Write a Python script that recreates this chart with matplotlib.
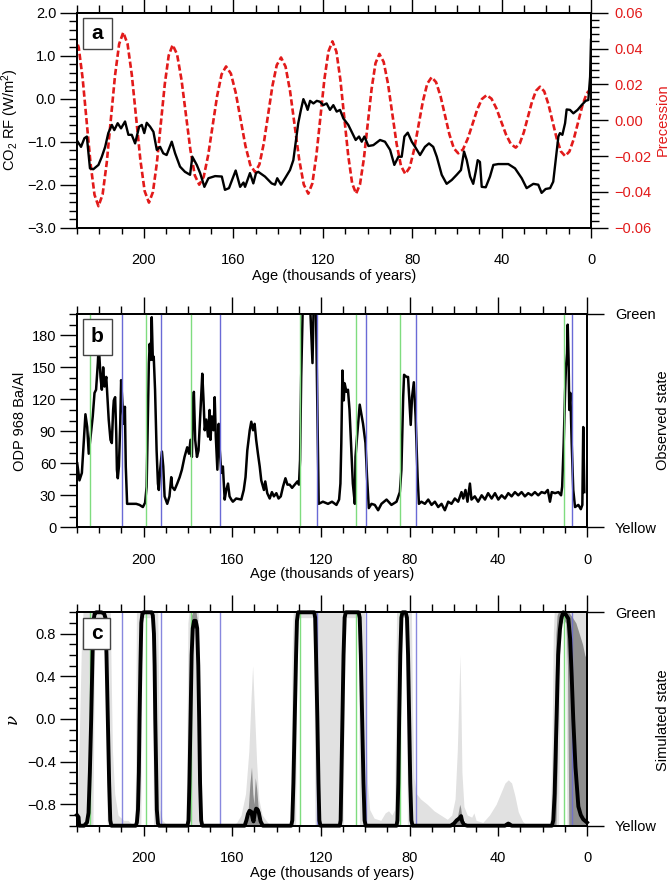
import matplotlib
matplotlib.use("Agg")
import matplotlib.pyplot as plt
from matplotlib.ticker import MultipleLocator, FuncFormatter
from matplotlib.patches import Rectangle

plt.rcParams['font.family'] = ['Liberation Sans', 'DejaVu Sans']
plt.rcParams['mathtext.fontset'] = 'custom'
plt.rcParams['mathtext.rm'] = 'Liberation Sans'
plt.rcParams['mathtext.it'] = 'Liberation Sans:italic'
plt.rcParams['axes.unicode_minus'] = True

# ---------------- data ----------------
co2_age = [229.7, 228.2, 226.7, 225.6, 224.2, 222.7, 220.4, 218.9, 217.4, 216.0, 214.4, 213.3, 211.8,
           210.3, 208.5, 207.0, 205.5, 204.0, 202.2, 201.0, 199.9, 198.8, 197.3, 195.8, 194.3, 192.8,
           191.4, 189.9, 187.6, 186.1, 183.9, 181.7, 179.4, 178.4, 176.4, 174.9, 173.0, 171.2, 168.2,
           165.2, 163.8, 162.0, 159.0, 157.0, 155.5, 154.8, 152.6, 151.1, 149.9, 148.9, 145.9, 142.9,
           141.4, 140.4, 138.7, 136.9, 134.7, 133.2, 132.4, 131.0, 129.8, 128.7, 127.5, 126.8, 125.7,
           124.2, 122.7, 121.3, 119.8, 118.3, 116.8, 115.3, 113.8, 112.3, 110.8, 108.6, 107.1, 105.3,
           103.8, 102.6, 101.4, 99.6, 97.4, 94.4, 92.2, 89.9, 88.0, 86.2, 84.7, 83.5, 82.0, 80.2,
           78.7, 76.5, 74.3, 72.5, 70.6, 69.0, 66.8, 64.6, 62.3, 60.1, 58.2, 56.8, 55.6, 54.1, 52.7,
           51.6, 50.7, 49.7, 48.9, 47.1, 45.2, 43.7, 41.5, 37.0, 34.0, 31.0, 28.8, 25.8, 23.6, 22.1,
           20.3, 18.3, 16.9, 15.8, 14.6, 13.9, 12.8, 11.6, 10.9, 9.4, 7.9, 6.0, 4.2, 2.4, 1.2, 0.4, 0.0]
co2_rf = [-1.00, -1.12, -0.92, -0.88, -1.62, -1.64, -1.54, -1.35, -1.12, -0.80, -0.61, -0.73, -0.57,
          -0.69, -0.53, -0.84, -0.84, -1.04, -0.65, -0.61, -0.80, -0.56, -0.65, -0.77, -1.19, -1.12,
          -1.27, -1.31, -1.00, -1.27, -1.58, -1.70, -1.77, -1.35, -1.54, -1.73, -2.05, -1.85, -1.80,
          -1.81, -2.12, -2.08, -1.67, -2.05, -1.95, -2.05, -1.73, -1.97, -1.73, -1.70, -1.81, -1.97,
          -2.00, -1.85, -2.00, -1.85, -1.66, -1.43, -1.12, -0.57, -0.26, -0.01, -0.15, -0.26, -0.05,
          -0.11, -0.05, -0.07, -0.15, -0.11, -0.26, -0.15, -0.30, -0.26, -0.46, -0.61, -0.77, -0.96,
          -0.88, -1.00, -0.88, -1.10, -1.08, -0.96, -1.00, -1.19, -1.54, -1.35, -1.35, -0.88, -0.79, -1.00,
          -1.12, -1.31, -1.12, -1.04, -1.12, -1.35, -1.77, -1.98, -1.89, -1.77, -1.66, -1.23, -1.43, -1.81, -1.98,
          -1.70, -1.43, -1.47, -2.05, -2.06, -1.81, -1.54, -1.52, -1.52, -1.62, -1.85, -2.08, -1.98, -2.00, -2.19,
          -2.10, -2.08, -1.93, -1.43, -0.88, -0.80, -0.84, -0.57, -0.25, -0.26, -0.34, -0.26, -0.15, -0.05, -0.03, 0.51, 1.37]

prec_age = [231.0, 229.23, 227.47, 225.7, 223.93, 222.17, 220.4, 218.55, 216.7, 214.85, 213.0, 211.15,
            209.3, 207.38, 205.47, 203.55, 201.63, 199.72, 197.8, 196.03, 194.27, 192.5, 190.73, 188.97,
            187.2, 185.22, 183.23, 181.25, 179.27, 177.28, 175.3, 173.3, 171.3, 169.3, 167.3, 165.3,
            163.3, 161.13, 158.97, 156.8, 154.63, 152.47, 150.3, 148.37, 146.43, 144.5, 142.57, 140.63,
            138.7, 136.67, 134.63, 132.6, 130.57, 128.53, 126.5, 124.7, 122.9, 121.1, 119.3, 117.5,
            115.7, 113.93, 112.17, 110.4, 108.63, 106.87, 105.1, 103.37, 101.63, 99.9, 98.17, 96.43,
            94.7, 92.77, 90.83, 88.9, 86.97, 85.03, 83.1, 81.13, 79.17, 77.2, 75.23, 73.27,
            71.3, 69.32, 67.33, 65.35, 63.37, 61.38, 59.4, 57.28, 55.17, 53.05, 50.93, 48.82,
            46.7, 44.53, 42.37, 40.2, 38.03, 35.87, 33.7, 31.88, 30.07, 28.25, 26.43, 24.62,
            22.8, 20.93, 19.07, 17.2, 15.33, 13.47, 11.6, 9.67, 7.73, 5.8, 3.87, 1.93, 0.0]
prec_val = [0.047, 0.0406, 0.0233, -0.0005, -0.0243, -0.0416, -0.048, -0.0415, -0.0238, 0.0005, 0.0248, 0.0425,
            0.049, 0.0426, 0.0253, 0.0015, -0.0223, -0.0396, -0.046, -0.0401, -0.024, -0.002, 0.020, 0.0361,
            0.042, 0.0368, 0.0225, 0.003, -0.0165, -0.0308, -0.036, -0.0316, -0.0195, -0.003, 0.0135, 0.0256,
            0.030, 0.026, 0.0153, 0.0005, -0.0143, -0.025, -0.029, -0.0247, -0.013, 0.003, 0.019, 0.0307,
            0.035, 0.0299, 0.016, -0.003, -0.022, -0.0359, -0.041, -0.0353, -0.0198, 0.0015, 0.0228, 0.0383,
            0.044, 0.0383, 0.0228, 0.0015, -0.0198, -0.0353, -0.041, -0.0358, -0.0215, -0.002, 0.0175, 0.0318,
            0.037, 0.0325, 0.0203, 0.0035, -0.0133, -0.0255, -0.030, -0.0264, -0.0165, -0.003, 0.0105, 0.0204,
            0.024, 0.0212, 0.0134, 0.0028, -0.0079, -0.0157, -0.0185, -0.0163, -0.0104, -0.0023, 0.0059, 0.0118,
            0.014, 0.012, 0.0067, -0.0007, -0.008, -0.0133, -0.0153, -0.0130, -0.0068, 0.0017, 0.0102, 0.0164,
            0.0187, 0.0161, 0.0090, -0.0007, -0.0103, -0.0174, -0.020, -0.0175, -0.0106, -0.0013, 0.0081, 0.015, 0.0175]

baal_age = [229.9, 228.9, 227.8, 226.6, 226.2, 225.4, 224.7, 223.6, 222.9, 222.1, 221.4, 220.6, 220.2,
            219.4, 218.8, 218.2, 217.6, 216.8, 216.4, 215.7, 214.9, 214.3, 213.7, 213.4, 212.8, 212.3,
            212.0, 211.6, 211.1, 210.5, 210.1, 209.5, 208.9, 208.4, 208.0, 207.4, 205.6, 203.3, 201.8,
            200.3, 199.3, 198.6, 198.0, 197.6, 197.2, 196.7, 196.3, 195.8, 195.4, 194.8, 194.1, 193.5,
            193.1, 192.5, 191.7, 191.1, 190.5, 189.3, 188.3, 187.5, 187.1, 186.0, 184.8, 183.7, 182.7,
            181.5, 180.3, 179.5, 178.8, 178.2, 177.8, 177.3, 176.7, 175.9, 175.2, 174.3, 173.5, 173.0,
            172.4, 171.7, 170.9, 170.2, 169.8, 169.2, 168.4, 167.9, 167.4, 166.7, 166.1, 165.6, 164.9,
            164.2, 163.4, 162.7, 161.9, 161.2, 160.4, 159.7, 158.2, 155.9, 154.8, 154.0, 153.2, 152.1,
            151.4, 150.6, 149.9, 149.2, 148.4, 147.6, 146.9, 145.7, 145.1, 144.2, 143.1, 142.1, 141.2,
            140.1, 139.1, 138.1, 137.1, 136.0, 135.1, 134.1, 133.0, 131.8, 130.6, 129.9, 129.4, 128.9,
            128.1, 125.0, 123.8, 123.2, 122.3, 121.6, 121.0, 119.1, 116.8, 115.0, 113.0, 111.8, 111.2,
            110.8, 110.3, 109.7, 109.3, 108.5, 107.8, 107.1, 106.3, 105.6, 104.7, 104.4, 103.7, 102.5,
            101.0, 99.9, 99.2, 98.4, 97.2, 95.7, 94.2, 92.7, 90.4, 88.2, 85.9, 84.4, 83.7, 82.9, 82.5,
            81.4, 80.7, 79.9, 79.5, 78.9, 78.1, 77.3, 76.4, 75.8, 74.7, 73.1, 71.6, 70.1, 68.6, 67.1,
            65.6, 64.1, 62.6, 61.1, 59.6, 58.1, 56.6, 55.8, 54.8, 53.9, 52.8, 52.1, 50.6, 49.1, 47.5,
            46.0, 44.6, 43.0, 41.5, 40.0, 38.5, 37.0, 35.5, 34.0, 32.5, 31.0, 29.5, 28.0, 26.5, 25.0,
            23.5, 22.0, 20.5, 19.0, 17.7, 16.7, 15.9, 14.4, 12.9, 11.7, 11.2, 10.5, 9.9, 9.5, 9.0, 8.7,
            8.3, 8.0, 7.5, 6.9, 6.2, 5.4, 3.9, 2.8, 2.1, 1.7, 1.2]
baal_val = [60, 44, 51, 91, 106, 94, 69, 91, 104, 126, 129, 154, 172,
            141, 129, 150, 132, 141, 126, 101, 82, 79, 110, 119, 122, 88,
            54, 46, 57, 97, 138, 116, 97, 113, 57, 22, 22, 22, 21,
            19, 23, 38, 110, 154, 172, 157, 197, 157, 160, 129, 72, 41,
            35, 54, 71, 57, 29, 22, 29, 47, 38, 35, 41, 47, 54,
            66, 75, 69, 82, 66, 110, 127, 82, 66, 72, 110, 144, 122,
            91, 101, 85, 110, 82, 104, 91, 122, 85, 54, 97, 72, 51,
            57, 26, 35, 41, 29, 26, 24, 27, 26, 35, 47, 72, 91,
            99, 91, 97, 82, 69, 57, 44, 35, 43, 32, 27, 33, 29,
            32, 27, 29, 38, 46, 40, 40, 37, 40, 43, 40, 63, 141,
            215, 215, 154, 215, 215, 110, 22, 24, 22, 24, 21, 26, 41,
            79, 147, 119, 135, 127, 129, 110, 72, 41, 22, 66, 85, 115,
            97, 79, 47, 18, 22, 21, 16, 22, 26, 21, 24, 33, 54, 122, 143,
            141, 141, 110, 96, 122, 136, 104, 47, 22, 24, 22, 26, 21, 24, 19,
            22, 16, 24, 22, 27, 24, 33, 27, 35, 24, 41, 26, 29, 24, 30,
            26, 32, 27, 32, 26, 30, 27, 32, 29, 33, 30, 33, 29, 32, 30,
            33, 30, 33, 32, 35, 24, 33, 32, 33, 30, 38, 79, 126, 150, 163, 190,
            157, 110, 126, 79, 35, 19, 21, 17, 21, 94, 33]

nu_age = [230.0, 229.3, 229.0, 226.8, 225.5, 224.8, 224.2, 223.6, 223.0, 222.6, 222.0, 221.4, 219.1,
          217.8, 217.2, 216.7, 216.1, 215.5, 215.0, 214.5, 203.5, 203.0, 202.5, 202.1, 201.8, 201.4,
          201.0, 200.5, 200.0, 196.3, 195.8, 195.3, 195.0, 194.7, 194.3, 194.0, 193.5, 193.0, 180.2,
          179.7, 179.3, 178.8, 178.3, 177.8, 177.2, 176.5, 175.8, 175.3, 174.9, 174.5, 174.0, 173.5,
          154.4, 153.6, 152.9, 152.2, 151.4, 150.8, 150.4, 149.8, 149.2, 148.5, 148.0, 147.2, 146.2,
          133.4, 132.9, 132.4, 131.8, 131.2, 130.8, 130.3, 123.0, 122.6, 122.2, 121.6, 121.1, 120.7,
          120.2, 111.5, 111.1, 110.8, 110.3, 109.8, 109.3, 108.8, 103.0, 102.5, 102.0, 101.4, 100.8,
          100.3, 99.8, 85.9, 85.5, 85.1, 84.7, 84.2, 83.7, 83.2, 81.8, 81.2, 80.7, 80.2, 79.7, 79.2,
          78.7, 61.5, 60.0, 58.8, 57.5, 56.8, 56.3, 55.5, 54.0, 37.0, 35.5, 34.0, 15.8, 15.2, 14.6,
          14.1, 13.7, 13.0, 12.2, 11.5, 10.7, 9.6, 8.4, 7.6, 6.9, 6.2, 5.2, 3.9, 2.8, 1.7, 0.0]
nu_mean = [-0.90, -0.92, -1.0, -1.0, -0.97, -0.88, -0.5, 0.0, 0.6, 0.92, 0.99, 1.0, 1.0,
           0.99, 0.95, 0.6, 0.0, -0.6, -0.95, -1.0, -1.0, -0.97, -0.85, -0.5, 0.0, 0.5,
           0.9, 0.99, 1.0, 1.0, 0.97, 0.8, 0.5, 0.0, -0.5, -0.85, -0.98, -1.0, -1.0,
           -0.95, -0.6, 0.0, 0.6, 0.85, 0.92, 0.92, 0.85, 0.5, 0.0, -0.6, -0.95, -1.0,
           -1.0, -0.95, -0.89, -0.86, -0.87, -0.93, -0.96, -0.88, -0.84, -0.85, -0.88, -0.96, -1.0,
           -1.0, -0.95, -0.6, 0.0, 0.6, 0.92, 1.0, 1.0, 0.95, 0.6, 0.0, -0.6, -0.95,
           -1.0, -1.0, -0.95, -0.6, 0.0, 0.6, 0.95, 1.0, 1.0, 0.95, 0.6, 0.0, -0.6,
           -0.95, -1.0, -1.0, -0.95, -0.6, 0.0, 0.6, 0.95, 1.0, 1.0, 0.95, 0.6, 0.0, -0.6, -0.95,
           -1.0, -1.0, -0.98, -0.95, -0.93, -0.91, -0.96, -0.99, -1.0, -1.0, -0.98, -1.0, -1.0, -0.95, -0.7,
           -0.3, 0.0, 0.6, 0.84, 0.95, 1.0, 0.98, 0.94, 0.75, 0.4, 0.0, -0.45, -0.82, -0.9, -0.94, -0.97]

light_age = [230.0, 229.0, 228.0, 227.3, 222.8, 222.2, 221.6, 217.4, 216.9, 216.4, 215.0, 214.5, 214.0,
             213.0, 211.5, 209.0, 207.0, 205.0, 204.0, 203.6, 203.2, 201.2, 200.8, 200.3, 196.0, 195.5,
             193.6, 193.0, 192.5, 191.5, 190.0, 188.0, 181.0, 180.5, 180.0, 179.5, 175.3, 174.6, 174.0,
             173.0, 160.0, 158.0, 156.0, 154.0, 152.5, 151.5, 150.8, 150.0, 149.0, 148.0, 146.5, 144.0,
             142.0, 134.0, 133.5, 133.0, 132.5, 131.4, 130.9, 130.3, 123.2, 122.7, 110.0, 109.3, 108.6,
             103.2, 102.6, 100.3, 99.8, 99.0, 98.0, 96.0, 93.0, 91.0, 89.5, 88.0, 86.8, 86.3, 85.9,
             84.5, 84.0, 83.4, 81.6, 81.0, 79.2, 78.6, 78.0, 77.0, 75.0, 72.0, 69.0, 66.0, 63.0, 61.0,
             59.5, 58.5, 57.8, 57.3, 56.9, 56.4, 55.5, 54.0, 52.0, 51.0, 50.0, 47.0, 44.0, 41.0, 39.0,
             37.0, 35.5, 34.0, 32.5, 31.0, 29.0, 27.0, 17.0, 16.5, 15.8, 15.2, 14.8, 12.8, 12.2, 11.5,
             9.8, 9.0, 0.0]
light_lo = [-1, -1, -1, -1, -1, 0.5, 0.95, 0.95, 0.4, -1, -1, -1, -1,
            -1, -1, -1, -1, -1, -1, -1, -1, -1, 0.5, 0.95, 0.95, -1,
            -1, -1, -1, -1, -1, -1, -1, -1, -1, -1, -1, -1, -1,
            -1, -1, -1, -1, -1, -1, -1, -1, -1, -1, -1, -1, -1,
            -1, -1, -1, -1, -1, -1, 0.5, 0.95, 0.95, -1, -1, 0.5, 0.95,
            0.95, -1, -1, -1, -1, -1, -1, -1, -1, -1, -1, -1, -1, -1,
            -1, 0.5, 0.95, 0.95, -1, -1, -1, -1, -1, -1, -1, -1, -1, -1, -1,
            -1, -1, -1, -1, -1, -1, -1, -1, -1, -1, -1, -1, -1, -1, -1,
            -1, -1, -1, -1, -1, -1, -1, -1, -1, -1, -1, -1, -1, 0.6, 0.9,
            0.9, -1, -1]
light_hi = [-0.75, -0.2, 0.7, 1.0, 1.0, 1.0, 1.0, 1.0, 1.0, 1.0, 1.0, 0.3, -0.3,
            -0.7, -0.9, -0.95, -0.95, -0.99, -1.0, -0.5, 1.0, 1.0, 1.0, 1.0, 1.0, 1.0,
            1.0, 0.0, -0.85, -0.95, -0.98, -1.0, -1.0, -0.5, 0.9, 1.0, 1.0, 0.0, -0.9,
            -1.0, -1.0, -0.97, -0.9, -0.7, -0.3, 0.2, 0.5, 0.1, -0.4, -0.75, -0.9, -0.97,
            -1.0, -1.0, -0.6, 0.6, 1.0, 1.0, 1.0, 1.0, 1.0, 1.0, 1.0, 1.0, 1.0,
            1.0, 1.0, 1.0, 0.0, -0.6, -0.85, -0.93, -0.95, -0.88, -0.86, -0.9, -0.85, 0.0, 1.0,
            1.0, 1.0, 1.0, 1.0, 1.0, 1.0, 0.0, -0.55, -0.7, -0.75, -0.8, -0.86, -0.9, -0.94, -0.9,
            -0.75, -0.3, 0.2, 0.6, 0.2, -0.5, -0.82, -0.9, -0.92, -0.88, -0.95, -0.97, -0.9, -0.8, -0.7,
            -0.6, -0.57, -0.6, -0.72, -0.87, -0.96, -1.0, -1.0, -0.9, -0.3, 0.8, 1.0, 1.0, 1.0, 1.0,
            1.0, 1.0, 1.0]

dark_age = [230.0, 178.8, 178.4, 177.8, 176.3, 175.6, 175.2, 154.0, 152.8, 152.0, 151.3, 150.7, 150.2,
            149.6, 149.0, 148.2, 147.0, 146.0, 61.0, 59.5, 58.3, 57.4, 57.0, 56.4, 55.0, 53.5, 39.0,
            36.5, 35.0, 33.0, 31.0, 15.5, 15.0, 14.5, 14.0, 13.5, 13.0, 12.3, 11.0, 9.5, 8.8, 8.2,
            6.5, 5.0, 3.5, 2.0, 1.0, 0.0]
dark_lo = [-1, 0.3, 0.8, 0.85, 0.85, 0.7, 0.4, -1, -1, -1, -1, -1, -1,
           -1, -1, -1, -1, -1, -1, -1, -1, -1, -1, -1, -1, -1, -1,
           -1, -1, -1, -1, -1, -1, -1, -1, -0.5, 0.3, 0.8, 0.95, 0.9, 0.5, -1,
           -1, -1, -1, -1, -1, -1]
dark_hi = [-1, 0.3, 0.97, 1.0, 1.0, 0.9, 0.4, -1, -0.85, -0.6, -0.45, -0.7, -0.8,
           -0.55, -0.65, -0.85, -0.97, -1, -1, -0.96, -0.9, -0.8, -0.83, -0.92, -0.98, -1, -1,
           -0.97, -0.96, -0.99, -1, -1, -0.6, 0.2, 0.8, 0.97, 1.0, 1.0, 1.0, 1.0, 1.0, 1.0,
           0.95, 0.9, 0.8, 0.7, 0.6, 0.55]

green_ages = [224.3, 198.7, 178.8, 129.5, 104.0, 84.3, 10.2]
blue_ages = [209.7, 192.2, 165.7, 121.6, 99.8, 77.3, 6.6]

# ---------------- style ----------------
FS = 10.5
W, H = 669.0, 881.0
RED = '#e21a1a'
GREEN = '#7fdc7f'
BLUE = '#6a6ad6'


def fx(px):
    return px / W


def fy(py):
    return 1 - py / H


def numfmt(d):
    def f(v, p):
        if abs(v) < 1e-9:
            v = 0.0
        return ('{:.%df}' % d).format(v).replace('-', '\u2212')
    return FuncFormatter(f)


def style_axes(ax):
    ax.set_xlim(230, 0)
    ax.xaxis.set_major_locator(MultipleLocator(40))
    ax.xaxis.set_minor_locator(MultipleLocator(10))
    ax.tick_params(axis='x', which='major', length=7.5, width=1.0, direction='out', pad=11,
                   labelsize=FS)
    ax.tick_params(axis='x', which='minor', length=4.5, width=1.0, direction='out')
    ax.tick_params(axis='y', which='major', length=12, width=1.0, direction='out', pad=3,
                   labelsize=FS)
    ax.tick_params(axis='y', which='minor', length=6, width=1.0, direction='out')
    for s in ax.spines.values():
        s.set_linewidth(1.3)
    sec = ax.secondary_xaxis('top')
    sec.xaxis.set_major_locator(MultipleLocator(40))
    sec.xaxis.set_minor_locator(MultipleLocator(10))
    sec.tick_params(axis='x', which='major', length=12, width=1.0, direction='out', labeltop=False)
    sec.tick_params(axis='x', which='minor', length=6, width=1.0, direction='out')
    sec.spines['top'].set_linewidth(1.3)
    return sec


def label_box(fig, x0, y0, w, h, letter):
    fig.add_artist(Rectangle((fx(x0), fy(y0 + h)), w / W, h / H, transform=fig.transFigure,
                             facecolor='white', edgecolor='#444444', linewidth=1.0, zorder=5))
    fig.text(fx(x0 + w / 2), fy(y0 + h / 2), letter, ha='center', va='center',
             fontsize=15, fontweight='bold', zorder=6)


fig = plt.figure(figsize=(6.69, 8.81), dpi=100)

# ---------------- panel a ----------------
axa = fig.add_axes([fx(77), fy(227.7), 514 / W, 215 / H])
style_axes(axa)
axa.set_ylim(-3.0, 2.0)
axa.yaxis.set_major_locator(MultipleLocator(1.0))
axa.yaxis.set_minor_locator(MultipleLocator(0.2))
axa.yaxis.set_major_formatter(numfmt(1))
axa2 = axa.twinx()
axa2.set_ylim(-0.06, 0.06)
axa2.yaxis.set_major_locator(MultipleLocator(0.02))
axa2.yaxis.set_minor_locator(MultipleLocator(0.004))
axa2.yaxis.set_major_formatter(numfmt(2))
axa2.tick_params(axis='y', which='major', length=12, width=1.0, direction='out', pad=5,
                 labelsize=FS, labelcolor=RED)
axa2.tick_params(axis='y', which='minor', length=6, width=1.0, direction='out')
for s in axa2.spines.values():
    s.set_linewidth(1.3)
axa2.plot(prec_age, prec_val, color=RED, lw=1.9, dashes=(2.4, 1.1))
axa.set_zorder(axa2.get_zorder() + 1)
axa.patch.set_visible(False)
axa.plot(co2_age, co2_rf, color='black', lw=1.7)

fig.text(fx(10), fy(120), r'CO$_2$ RF (W/m$^2$)', rotation=90, ha='center', va='center', fontsize=FS)
fig.text(fx(663), fy(120), 'Precession', rotation=90, ha='center', va='center', fontsize=FS, color=RED)
fig.text(fx(334), fy(276), 'Age (thousands of years)', ha='center', va='center', fontsize=FS)
label_box(fig, 83, 18, 29, 31, 'a')

# ---------------- panel b ----------------
axb = fig.add_axes([fx(77), fy(527.3), 510 / W, 213.3 / H])
style_axes(axb)
axb.set_ylim(0, 200)
axb.set_yticks([0, 30, 60, 90, 120, 150, 180])
axb.yaxis.set_minor_locator(MultipleLocator(10))
axb.plot(baal_age, baal_val, color='black', lw=1.8, zorder=2)
for a in green_ages:
    axb.axvline(a, color=GREEN, lw=1.0, zorder=3)
for a in blue_ages:
    axb.axvline(a, color=BLUE, lw=1.0, zorder=3)
axb2 = axb.twinx()
axb2.set_ylim(0, 200)
axb2.set_yticks([200, 0])
axb2.set_yticklabels(['Green', 'Yellow'])
axb2.tick_params(axis='y', which='major', length=12, width=1.0, direction='out', pad=8, labelsize=FS)
for s in axb2.spines.values():
    s.set_linewidth(1.3)
fig.text(fx(20), fy(421), 'ODP 968 Ba/Al', rotation=90, ha='center', va='center', fontsize=FS)
fig.text(fx(663), fy(420), 'Observed state', rotation=90, ha='center', va='center', fontsize=FS)
fig.text(fx(332), fy(574), 'Age (thousands of years)', ha='center', va='center', fontsize=FS)
label_box(fig, 83, 319, 29, 36, 'b')

# ---------------- panel c ----------------
axc = fig.add_axes([fx(77), fy(825.7), 510 / W, 213.4 / H])
style_axes(axc)
axc.set_ylim(-1.0, 1.0)
axc.set_yticks([-0.8, -0.4, 0.0, 0.4, 0.8])
axc.yaxis.set_minor_locator(MultipleLocator(0.1))
axc.yaxis.set_major_formatter(numfmt(1))
axc.fill_between(light_age, light_lo, light_hi, color='#e1e1e1', lw=0, zorder=1)
axc.fill_between(dark_age, dark_lo, dark_hi, color='#8e8e8e', lw=0, zorder=1.5)
for a in green_ages:
    axc.axvline(a, color=GREEN, lw=1.0, zorder=2)
for a in blue_ages:
    axc.axvline(a, color=BLUE, lw=1.0, alpha=0.8, zorder=2)
axc.plot(nu_age, nu_mean, color='black', lw=2.8, zorder=3, clip_on=False,
         solid_joinstyle='round')
axc2 = axc.twinx()
axc2.set_ylim(-1.0, 1.0)
axc2.set_yticks([1.0, -1.0])
axc2.set_yticklabels(['Green', 'Yellow'])
axc2.tick_params(axis='y', which='major', length=12, width=1.0, direction='out', pad=8, labelsize=FS)
for s in axc2.spines.values():
    s.set_linewidth(1.3)
fig.text(fx(12), fy(719), '\u03bd', rotation=90, ha='center', va='center', fontsize=12,
         family='DejaVu Serif', style='italic')
fig.text(fx(663), fy(720), 'Simulated state', rotation=90, ha='center', va='center', fontsize=FS)
fig.text(fx(332), fy(873), 'Age (thousands of years)', ha='center', va='center', fontsize=FS)
label_box(fig, 83, 618, 27, 31, 'c')

fig.savefig('out.png', dpi=100)
